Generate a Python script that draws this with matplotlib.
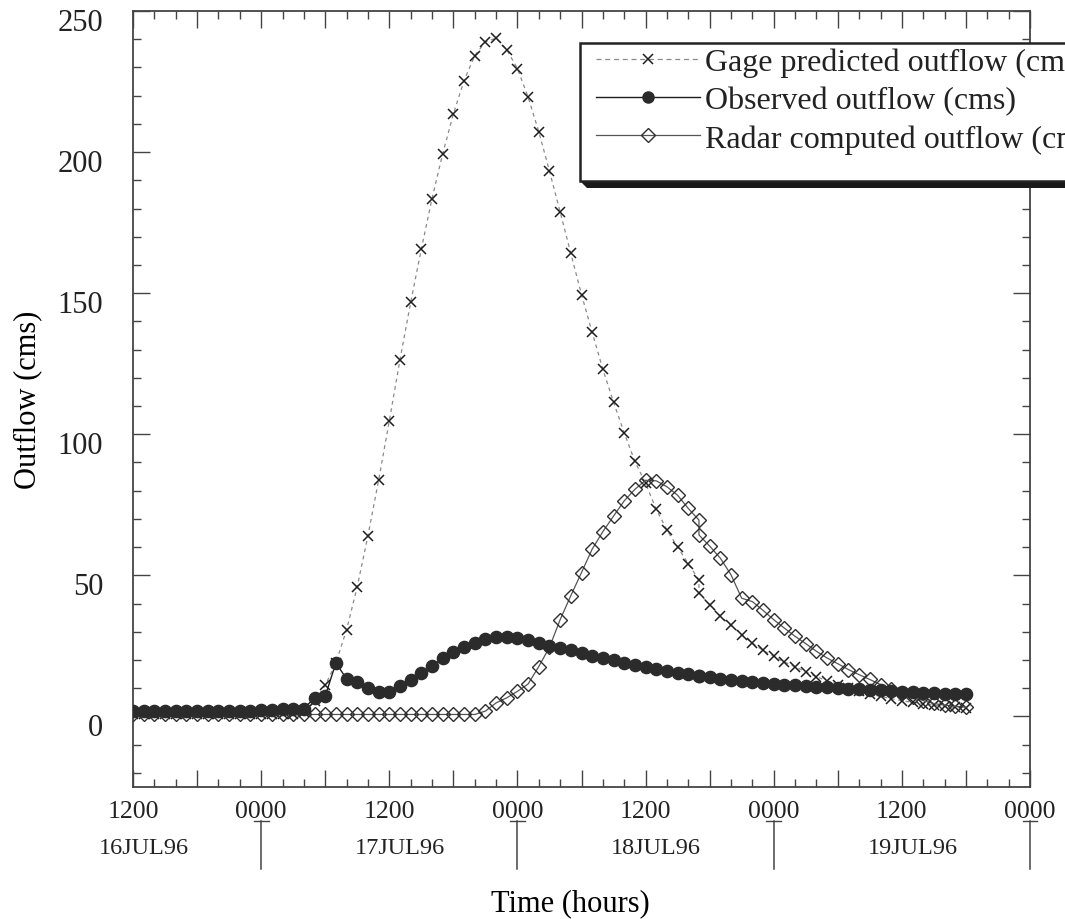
import matplotlib
matplotlib.use("Agg")
import matplotlib.pyplot as plt
from matplotlib.patches import Rectangle, Polygon
from matplotlib.lines import Line2D
from matplotlib.ticker import MultipleLocator, FuncFormatter

plt.rcParams['font.family'] = ['Liberation Serif', 'DejaVu Serif']
plt.rcParams['text.color'] = '#222222'

# Hours after 1200 16JUL96 (hour 53 appears twice in the record)
hours = [0, 1, 2, 3, 4, 5, 6, 7, 8, 9, 10, 11, 12, 13, 14, 15, 16, 17, 18, 19,
         20, 21, 22, 23, 24, 25, 26, 27, 28, 29, 30, 31, 32, 33, 34, 35, 36, 37, 38, 39,
         40, 41, 42, 43, 44, 45, 46, 47, 48, 49, 50, 51, 52, 53, 53, 54, 55, 56, 57, 58,
         59, 60, 61, 62, 63, 64, 65, 66, 67, 68, 69, 70, 71, 72, 73, 74, 75, 76, 77, 78]

gage_predicted = [0.7, 0.7, 0.7, 0.7, 0.7, 0.7, 0.7, 0.7, 0.7, 0.7, 0.7, 0.7, 0.7, 0.7, 0.7, 0.7,
                  1.5, 5.5, 11.0, 19.0, 30.7, 46.0, 64.0, 83.7, 104.7, 126.4, 146.7, 165.6,
                  183.5, 199.4, 213.5, 225.3, 234.2, 239.0, 240.4, 236.3, 229.6, 219.5, 207.2,
                  193.3, 178.8, 164.1, 149.5, 136.1, 123.0, 111.4, 100.5, 90.4, 82.6, 73.4,
                  66.1, 60.0, 54.1, 48.4, 43.7, 39.6, 35.5, 32.3, 29.0, 26.0, 23.4, 21.3, 19.3,
                  17.6, 15.8, 14.1, 12.6, 11.3, 10.1, 9.0, 8.0, 7.1, 6.3, 5.6, 5.0, 4.5, 4.0,
                  3.6, 3.2, 2.9]

observed = [2.0, 2.0, 2.0, 2.0, 2.0, 2.0, 2.0, 2.0, 2.0, 2.0, 2.0, 2.1, 2.2, 2.3, 2.5, 2.6,
            2.8, 6.6, 7.2, 19.0, 13.3, 12.1, 10.1, 8.6, 8.8, 10.7, 12.8, 15.4, 17.8, 20.7,
            23.0, 24.6, 26.1, 27.4, 28.1, 28.1, 27.7, 27.0, 26.0, 25.0, 24.1, 23.5, 22.5,
            21.6, 20.7, 19.9, 19.0, 18.2, 17.5, 16.8, 16.1, 15.5, 15.0, 14.5, 14.4, 13.9,
            13.4, 13.0, 12.6, 12.2, 11.9, 11.6, 11.3, 11.0, 10.8, 10.5, 10.3, 10.0, 9.8,
            9.6, 9.4, 9.2, 9.0, 8.8, 8.6, 8.4, 8.2, 8.1, 7.9, 7.8]

radar_computed = [0.7, 0.7, 0.7, 0.7, 0.7, 0.7, 0.7, 0.7, 0.7, 0.7, 0.7, 0.7, 0.7, 0.7, 0.7, 0.7,
                  0.7, 0.7, 0.7, 0.7, 0.7, 0.7, 0.7, 0.7, 0.7, 0.7, 0.7, 0.7, 0.7, 0.7, 0.7, 0.7,
                  0.7, 1.9, 4.8, 6.6, 8.9, 11.5, 17.7, 24.5, 34.3, 42.8, 51.0, 59.3, 65.5, 71.0,
                  76.4, 80.5, 83.7, 83.5, 81.4, 78.4, 73.7, 69.6, 64.3, 60.4, 56.1, 50.2, 41.9,
                  40.7, 37.6, 34.3, 31.3, 28.4, 25.8, 23.1, 20.7, 18.7, 16.6, 14.8, 13.1, 11.3,
                  9.8, 8.4, 7.0, 5.6, 4.6, 4.0, 3.6, 3.3]

series_labels = ["Gage predicted outflow (cms)", "Observed outflow (cms)",
                 "Radar computed outflow (cms)"]
y_ticks = [0, 50, 100, 150, 200, 250]
day_labels = ["16JUL96", "17JUL96", "18JUL96", "19JUL96"]
day_centers = [0, 24, 48, 72]
day_breaks = [12, 36, 60, 84]

W, H = 1065, 920
fig = plt.figure(figsize=(W / 100, H / 100), dpi=100)
ax = fig.add_axes([133 / W, 1 - 788 / H, (1030 - 133) / W, (788 - 12) / H])

ax.plot(hours, gage_predicted, color='#8a8a8a', lw=0.9, ls=(0, (3, 3)),
        marker='x', ms=7.5, mec='#1e1e1e', mew=1.1, zorder=3)
ax.plot(hours, observed, color='#1e1e1e', lw=1.0, marker='o', ms=8.8,
        mfc='#2b2b2b', mec='#2b2b2b', zorder=4)
ax.plot(hours, radar_computed, color='#555555', lw=0.9, marker='D', ms=7.4,
        mfc='none', mec='#2e2e2e', mew=1.0, zorder=3)

ax.set_xlim(0, 84)
ax.set_ylim(-25, 250)

for s in ax.spines.values():
    s.set_color('#444444')
    s.set_linewidth(1.3)

ax.xaxis.set_major_locator(MultipleLocator(6))
ax.xaxis.set_minor_locator(MultipleLocator(2))
ax.xaxis.set_major_formatter(FuncFormatter(
    lambda v, p: ("1200" if int(round(v)) % 24 == 0 else "0000") if int(round(v)) % 12 == 0 else ""))
ax.yaxis.set_major_locator(MultipleLocator(50))
ax.yaxis.set_minor_locator(MultipleLocator(10))
ax.set_yticks(y_ticks)
ax.set_yticklabels([])

ax.tick_params(which='both', direction='in', top=True, right=True, color='#444444', width=1.0)
ax.tick_params(which='major', length=12)
ax.tick_params(which='minor', length=6)
ax.tick_params(axis='x', which='major', labelsize=18.5, pad=9, labelcolor='#222222')

# y tick labels sit a little below their ticks
for v in y_ticks:
    ax.annotate(str(v), xy=(0, v), xycoords=('axes fraction', 'data'),
                xytext=(-21.5, -8), textcoords='offset points',
                ha='right', va='center', fontsize=22, color='#222222')

# day names under the time axis, with separators at midnight
for d, c in zip(day_labels, day_centers):
    ax.text(c + 1.0, -0.078, d, transform=ax.get_xaxis_transform(),
            ha='center', va='center', fontsize=17.5, color='#222222')
tr = ax.get_xaxis_transform()
for b in day_breaks:
    ax.add_line(Line2D([b, b], [-0.044, -0.106], transform=tr, color='#444444',
                       lw=1.1, clip_on=False))
    ax.add_line(Line2D([b - 0.7, b + 0.7], [-0.044, -0.044], transform=tr,
                       color='#444444', lw=1.0, clip_on=False))

ax.set_ylabel("Outflow (cms)", fontsize=22)
ax.yaxis.set_label_coords((28 - 133) / (1030 - 133), 0.5)
ax.yaxis.label.set_va('center')
ax.set_xlabel("Time (hours)", fontsize=22)
ax.xaxis.set_label_coords((570 - 133) / (1030 - 133), (788 - 904) / (788 - 12))
ax.xaxis.label.set_va('center')

# legend frame with a heavy drop shadow
def fx(px):
    return px / W

def fy(py):
    return 1 - py / H

shadow = Polygon([(fx(580), fy(182)), (fx(587), fy(189)), (fx(1120), fy(189)), (fx(1120), fy(182))],
                 closed=True, transform=fig.transFigure, fc='#1a1a1a', ec='none', zorder=5)
frame = Rectangle((fx(580), fy(182)), fx(1120) - fx(580), fy(44) - fy(182),
                  transform=fig.transFigure, fc='white', ec='#222222', lw=1.8, zorder=5.5)
fig.patches.extend([shadow, frame])

handles = [
    Line2D([], [], color='#8a8a8a', lw=0.9, ls=(0, (4, 3)), marker='x', ms=6.5,
           mec='#1e1e1e', mew=1.1),
    Line2D([], [], color='#1e1e1e', lw=1.0, marker='o', ms=8.0, mfc='#2b2b2b', mec='#2b2b2b'),
    Line2D([], [], color='#555555', lw=0.9, marker='D', ms=7.2, mfc='none', mec='#2e2e2e'),
]
leg = fig.legend(handles, series_labels, loc='upper left',
                 bbox_to_anchor=(fx(596), fy(49)), bbox_transform=fig.transFigure,
                 frameon=False, fontsize=23, borderpad=0, borderaxespad=0,
                 handlelength=3.25, handletextpad=0.15, labelspacing=0.27, numpoints=1)
leg.set_zorder(6)

fig.savefig("out.png", dpi=100)
